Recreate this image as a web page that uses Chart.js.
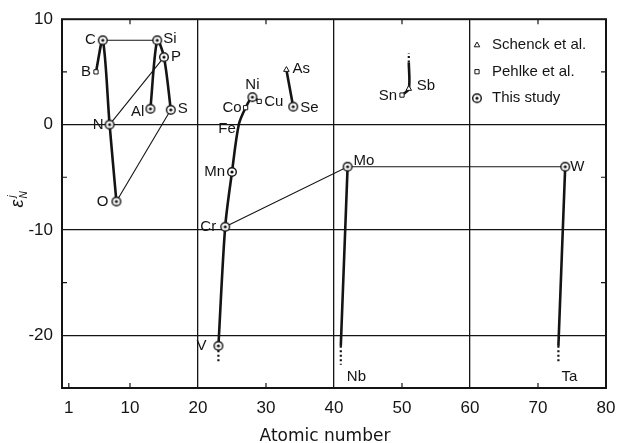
<!DOCTYPE html>
<html>
<head>
<meta charset="utf-8">
<script src="https://cdn.jsdelivr.net/npm/chart.js@4.4.1/dist/chart.umd.min.js"></script>
<style>
  html, body { margin: 0; padding: 0; background: #fff; }
  #wrap { width: 618px; height: 443px; position: relative; }
</style>
</head>
<body>
<div id="wrap"><canvas id="epsChart"></canvas></div>
<script>
// ============================================
// DATA
// ============================================
const xTickValues = [1, 10, 20, 30, 40, 50, 60, 70, 80];
const yTickValues = [-20, -15, -10, -5, 0, 5, 10];

// This study
const studyNames = ['C', 'N', 'O', 'Al', 'Si', 'P', 'S', 'V', 'Cr', 'Mn', 'Ni', 'Se', 'Mo', 'W'];
const studyZ     = [6, 7, 8, 13, 14, 15, 16, 23, 24, 25, 28, 34, 42, 74];
const studyEps   = [8.0, 0.0, -7.3, 1.5, 8.0, 6.4, 1.4, -21.0, -9.7, -4.5, 2.6, 1.7, -4.0, -4.0];

// Pehlke et al.
const pehlkeNames = ['B', 'Co', 'Cu', 'Sn'];
const pehlkeZ     = [5, 27, 29, 50];
const pehlkeEps   = [5.0, 1.6, 2.2, 2.8];

// Schenck et al.
const schenckNames = ['As', 'Sb'];
const schenckZ     = [33, 51];
const schenckEps   = [5.2, 3.4];

// points on the curves that carry no marker
const guideNames = ['Fe', 'Nb', 'Ta', 'SbUp'];
const guideZ     = [26, 41, 73, 51];
const guideEps   = [0.0, -21.0, -21.0, 5.9];

// dotted continuations
const tailFrom   = ['V', 'Nb', 'Ta', 'SbUp'];
const tailEndEps = [-22.5, -22.8, -22.6, 6.8];

// connecting curves
const thickPaths = [
    ['B', 'C', 'N', 'O'],
    ['Al', 'Si', 'P', 'S'],
    ['V', 'Cr', 'Mn', 'Fe', 'Co', 'Ni', 'Cu'],
    ['As', 'Se'],
    ['Sn', 'Sb', 'SbUp'],
    ['Mo', 'Nb'],
    ['W', 'Ta']
];
const thinPaths = [
    ['C', 'Si'],
    ['N', 'P'],
    ['O', 'S'],
    ['Cr', 'Mo', 'W']
];

const legendLabels = ['Schenck et al.', 'Pehlke et al.', 'This study'];

// label placement: [dx, dy, align]
const labelPlacement = {
    B: [-5, 0, 'right'], C: [-7, 0, 'right'], Si: [6, -1, 'left'], P: [7, 0, 'left'],
    Al: [-6, 3, 'right'], S: [7, -1, 'left'], N: [-6, 0, 'right'], O: [-8, 0, 'right'],
    V: [-12, 0, 'right'], Cr: [-9, 0, 'right'], Mn: [-7, 0, 'right'], Fe: [-3, 4, 'right'],
    Co: [-4, 0, 'right'], Ni: [0, -12, 'center'], Cu: [5, 0, 'left'], As: [6, -1, 'left'],
    Se: [7, 1, 'left'], Sn: [-5, 1, 'right'], Sb: [8, -3, 'left'], Mo: [6, -6, 'left'],
    W: [5, 0, 'left'], Nb: [6, 31, 'left'], Ta: [3, 31, 'left']
};

// ============================================
// HELPERS
// ============================================
const INK = '#141414';
const FONT = '"Liberation Sans", Arial, sans-serif';

const pointsByName = {};
function register(names, zs, eps) {
    names.forEach((n, i) => { pointsByName[n] = { x: zs[i], y: eps[i] }; });
}
register(studyNames, studyZ, studyEps);
register(pehlkeNames, pehlkeZ, pehlkeEps);
register(schenckNames, schenckZ, schenckEps);
register(guideNames, guideZ, guideEps);

function toPoints(names, zs, eps) {
    return names.map((n, i) => ({ x: zs[i], y: eps[i] }));
}

// circle with dot for "This study"
function makeDotCircle() {
    const c = document.createElement('canvas');
    c.width = 12; c.height = 12;
    const g = c.getContext('2d');
    g.fillStyle = '#fff';
    g.strokeStyle = INK;
    g.lineWidth = 1.4;
    g.beginPath(); g.arc(6, 6, 4.3, 0, Math.PI * 2); g.fill(); g.stroke();
    g.fillStyle = INK;
    g.beginPath(); g.arc(6, 6, 1.6, 0, Math.PI * 2); g.fill();
    return c;
}
const dotCircle = makeDotCircle();

const datasets = [];

datasets.push({
    label: 'Schenck et al.',
    data: toPoints(schenckNames, schenckZ, schenckEps),
    pointStyle: 'triangle', pointRadius: 3.2, borderWidth: 1,
    borderColor: INK, backgroundColor: '#fff', showLine: false, order: 0
});
datasets.push({
    label: 'Pehlke et al.',
    data: toPoints(pehlkeNames, pehlkeZ, pehlkeEps),
    pointStyle: 'rect', pointRadius: 3, borderWidth: 1,
    borderColor: INK, backgroundColor: '#fff', showLine: false, order: 0
});
datasets.push({
    label: 'This study',
    data: toPoints(studyNames, studyZ, studyEps),
    pointStyle: dotCircle, pointRadius: 5, showLine: false, order: 0
});

thickPaths.forEach(path => {
    datasets.push({
        data: path.map(n => pointsByName[n]),
        showLine: true, pointRadius: 0, borderColor: INK, borderWidth: 2.6,
        tension: 0.3, order: 2
    });
});
thinPaths.forEach(path => {
    datasets.push({
        data: path.map(n => pointsByName[n]),
        showLine: true, pointRadius: 0, borderColor: INK, borderWidth: 1.1,
        tension: 0, order: 2
    });
});
tailFrom.forEach((n, i) => {
    const p = pointsByName[n];
    datasets.push({
        data: [p, { x: p.x, y: tailEndEps[i] }],
        showLine: true, pointRadius: 0, borderColor: INK, borderWidth: 2.2,
        borderDash: [2, 2.5], order: 2
    });
});

// ============================================
// PLUGINS
// ============================================
const frameAndLabels = {
    id: 'frameAndLabels',
    afterDatasetsDraw(chart) {
        const { ctx, chartArea: a, scales } = chart;
        const xs = scales.x, ys = scales.y;
        ctx.save();

        // frame
        ctx.strokeStyle = INK;
        ctx.lineWidth = 2;
        ctx.strokeRect(a.left, a.top, a.right - a.left, a.bottom - a.top);

        // inward minor ticks
        ctx.lineWidth = 1.2;
        [10, 30, 50, 70].forEach(v => {
            const px = xs.getPixelForValue(v);
            ctx.beginPath();
            ctx.moveTo(px, a.bottom); ctx.lineTo(px, a.bottom - 5);
            ctx.moveTo(px, a.top); ctx.lineTo(px, a.top + 5);
            ctx.stroke();
        });
        const px1 = xs.getPixelForValue(1);
        ctx.beginPath(); ctx.moveTo(px1, a.bottom); ctx.lineTo(px1, a.bottom - 5); ctx.stroke();
        [5, -5, -15].forEach(v => {
            const py = ys.getPixelForValue(v);
            ctx.beginPath();
            ctx.moveTo(a.left, py); ctx.lineTo(a.left + 5, py);
            ctx.moveTo(a.right, py); ctx.lineTo(a.right - 5, py);
            ctx.stroke();
        });

        // element labels
        ctx.fillStyle = INK;
        ctx.font = '15px ' + FONT;
        ctx.textBaseline = 'middle';
        Object.keys(labelPlacement).forEach(name => {
            const p = pointsByName[name];
            const [dx, dy, align] = labelPlacement[name];
            ctx.textAlign = align;
            ctx.fillText(name, xs.getPixelForValue(p.x) + dx, ys.getPixelForValue(p.y) + dy);
        });

        // legend inside the upper-right cell
        const lx = a.right - 129, ly = a.top + 26;
        ctx.font = '15px ' + FONT;
        ctx.textAlign = 'left';
        legendLabels.forEach((txt, i) => {
            const y = ly + i * 26.5;
            ctx.fillStyle = '#fff'; ctx.strokeStyle = INK; ctx.lineWidth = 1;
            if (i === 0) {
                Chart.helpers.drawPoint(ctx, { pointStyle: 'triangle', radius: 3.2, borderWidth: 1 }, lx, y);
            } else if (i === 1) {
                Chart.helpers.drawPoint(ctx, { pointStyle: 'rect', radius: 3, borderWidth: 1 }, lx, y);
            } else {
                ctx.drawImage(dotCircle, lx - 6, y - 6);
            }
            ctx.fillStyle = INK;
            ctx.fillText(txt, lx + 15, y);
        });

        // y axis title: epsilon N j
        ctx.translate(17, (a.top + a.bottom) / 2 - 4);
        ctx.rotate(-Math.PI / 2);
        ctx.textAlign = 'left';
        ctx.textBaseline = 'alphabetic';
        ctx.font = 'italic 18px ' + FONT;
        ctx.fillText('\u03B5', -8, 6);
        ctx.font = 'italic 10px ' + FONT;
        ctx.fillText('j', 2, -2);
        ctx.fillText('N', 1, 10);
        ctx.restore();

        // x axis title
        ctx.save();
        ctx.fillStyle = INK;
        ctx.font = '17px "DejaVu Sans", sans-serif';
        ctx.textAlign = 'center';
        ctx.textBaseline = 'alphabetic';
        ctx.fillText('Atomic number', 325, 441);
        ctx.restore();
    }
};

// ============================================
// CHART
// ============================================
new Chart(document.getElementById('epsChart'), {
    type: 'scatter',
    data: { datasets: datasets },
    options: {
        responsive: true,
        maintainAspectRatio: false,
        animation: false,
        layout: { padding: { top: 18, right: 12, bottom: 0, left: 0 } },
        plugins: {
            legend: { display: false },
            tooltip: { enabled: false }
        },
        scales: {
            x: {
                type: 'linear', min: 0, max: 80,
                afterBuildTicks: axis => { axis.ticks = xTickValues.map(v => ({ value: v })); },
                afterFit: axis => { axis.height = 55; axis.paddingRight = 0; },
                border: { display: false },
                grid: {
                    drawTicks: false,
                    lineWidth: 1.3,
                    color: c => ([20, 40, 60].includes(c.tick && c.tick.value) ? INK : 'rgba(0,0,0,0)')
                },
                ticks: {
                    padding: 10, color: INK, maxRotation: 0, autoSkip: false,
                    font: { family: FONT, size: 17 }
                }
            },
            y: {
                type: 'linear', min: -25, max: 10,
                afterBuildTicks: axis => { axis.ticks = yTickValues.map(v => ({ value: v })); },
                afterFit: axis => { axis.width = 62; },
                border: { display: false },
                grid: {
                    drawTicks: false,
                    lineWidth: 1.3,
                    color: c => ([0, -10, -20].includes(c.tick && c.tick.value) ? INK : 'rgba(0,0,0,0)')
                },
                ticks: {
                    padding: 9, color: INK, autoSkip: false,
                    font: { family: FONT, size: 17 },
                    callback: v => (v % 10 === 0 ? String(v) : '')
                }
            }
        }
    },
    plugins: [frameAndLabels]
});
</script>
</body>
</html>
